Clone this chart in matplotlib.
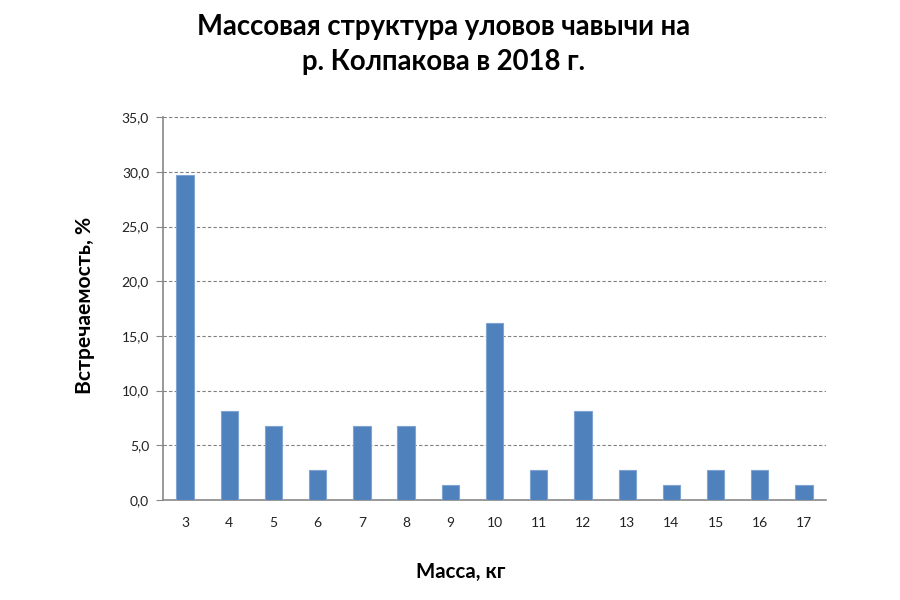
import matplotlib
matplotlib.use("Agg")
import matplotlib.pyplot as plt
import numpy as np

masses = ["3", "4", "5", "6", "7", "8", "9", "10", "11", "12", "13", "14", "15", "16", "17"]
freq = [29.7, 8.1, 6.8, 2.7, 6.8, 6.8, 1.4, 16.2, 2.7, 8.1, 2.7, 1.4, 2.7, 2.7, 1.4]
yticks = [0, 5, 10, 15, 20, 25, 30, 35]
ytick_labels = ["0,0", "5,0", "10,0", "15,0", "20,0", "25,0", "30,0", "35,0"]

title = "Массовая структура уловов чавычи на\nр. Колпакова в 2018 г."
xlabel = "Масса, кг"
ylabel = "Встречаемость, %"

plt.rcParams['font.family'] = ['Lato', 'DejaVu Sans']

fig = plt.figure(figsize=(9, 6), dpi=100)
ax = fig.add_axes([0.181, 0.1667, 0.737, 0.638])

x = np.arange(len(masses))
ax.bar(x, freq, width=0.39, color="#4F81BD", edgecolor="#7FA3D3", linewidth=0.8, zorder=3)

ax.set_xlim(-0.5, len(masses) - 0.5)
ax.set_ylim(0, 35)
ax.set_yticks(yticks)
ax.set_yticklabels(ytick_labels, fontsize=10, color="#222222")
ax.set_xticks(x)
ax.set_xticklabels(masses, fontsize=10, color="#222222")
ax.tick_params(axis='x', length=0, pad=12)
ax.tick_params(axis='y', length=5, color="#888888", pad=5)

for v in yticks[1:]:
    ax.axhline(v, color="#808080", linestyle=(0, (3, 2)), linewidth=0.8, zorder=1)

for s in ["top", "right"]:
    ax.spines[s].set_visible(False)
for s in ["left", "bottom"]:
    ax.spines[s].set_color("#888888")
    ax.spines[s].set_linewidth(1.2)

fig.text(461 / 900, 1 - 572 / 600, xlabel, ha="center", va="center", fontsize=14.8, fontweight="bold")
fig.text(85 / 900, 1 - 305 / 600, ylabel, ha="center", va="center", rotation=90, fontsize=15.2, fontweight="bold")
fig.text(444 / 900, 0.977, title, ha="center", va="top", fontsize=19.8, fontweight="bold", linespacing=1.45)

fig.savefig("out.png", dpi=100, facecolor="white")
